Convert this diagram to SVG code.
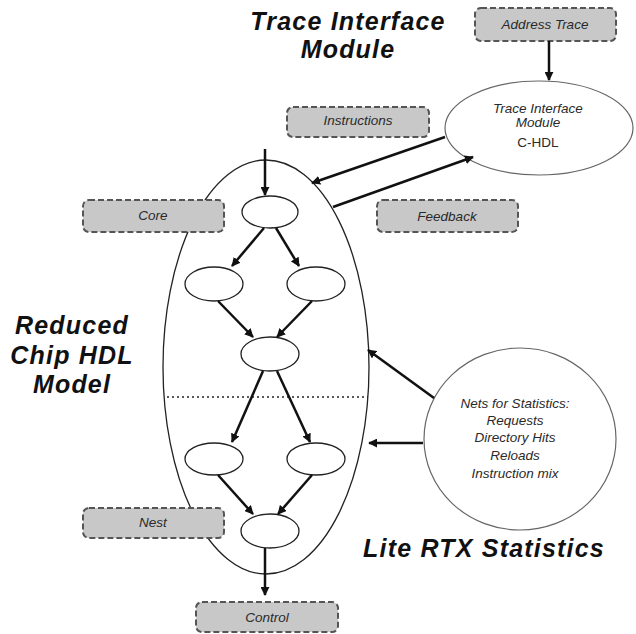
<svg xmlns="http://www.w3.org/2000/svg" width="636" height="634" viewBox="0 0 636 634">
  <style>
    .title { font-family: "Liberation Sans", Arial, sans-serif; font-size: 25px; letter-spacing: 1.2px; font-weight: bold; font-style: italic; fill: #111; text-anchor: middle; }
    .lbl { font-family: "Liberation Sans", Arial, sans-serif; font-size: 13.5px; font-style: italic; fill: #2a2a2a; text-anchor: middle; }
    .up { font-style: normal; }
    .box { fill: #c8c8c8; stroke: #555; stroke-width: 2; stroke-dasharray: 6 3; }
    .node { fill: #fff; stroke: #222; stroke-width: 1.3; }
    .oval { fill: #fff; stroke: #666; stroke-width: 1.2; }
    .edge { fill: none; stroke: #111; stroke-width: 2.5; marker-end: url(#arrow); }
  </style>
  <defs>
    <marker id="arrow" viewBox="0 0 10 10" refX="9" refY="5" markerWidth="3.6" markerHeight="3.6" orient="auto" markerUnits="strokeWidth">
      <path d="M0,0 L10,5 L0,10 z" fill="#111"/>
    </marker>
  </defs>
  <rect width="636" height="634" fill="#fff"/>

  <!-- headings -->
  <text class="title" x="348" y="30">Trace Interface</text>
  <text class="title" x="348" y="58">Module</text>
  <text class="title" x="72" y="334">Reduced</text>
  <text class="title" x="72" y="364">Chip HDL</text>
  <text class="title" x="72" y="393">Model</text>
  <text class="title" x="484" y="557">Lite RTX Statistics</text>

  <!-- chip model outline -->
  <g id="chip">
    <ellipse class="node" cx="266" cy="367" rx="103" ry="207"/>
    <line x1="167" y1="397" x2="368" y2="397" stroke="#222" stroke-width="1.5" stroke-dasharray="2 3"/>
  </g>

  <!-- labels overlapping the outline -->
  <g id="core"><rect class="box" x="83" y="200" width="141" height="32" rx="6"/><text class="lbl" x="153" y="220">Core</text></g>
  <g id="nest"><rect class="box" x="83" y="508" width="141" height="30" rx="6"/><text class="lbl" x="153" y="527">Nest</text></g>
  <g id="control"><rect class="box" x="196" y="602" width="142" height="30" rx="6"/><text class="lbl" x="267" y="622">Control</text></g>
  <g id="instructions"><rect class="box" x="287" y="107" width="142" height="30" rx="6"/><text class="lbl" x="358" y="125">Instructions</text></g>
  <g id="feedback"><rect class="box" x="377" y="200" width="141" height="32" rx="6"/><text class="lbl" x="447" y="221">Feedback</text></g>
  <g id="address-trace"><rect class="box" x="475" y="8" width="141" height="33" rx="6"/><text class="lbl" x="545" y="29">Address Trace</text></g>

  <!-- trace interface module -->
  <g id="tim">
    <ellipse class="oval" cx="539" cy="128" rx="94" ry="47"/>
    <text class="lbl" x="538" y="113">Trace Interface</text>
    <text class="lbl" x="538" y="127">Module</text>
    <text class="lbl up" x="538" y="147">C-HDL</text>
  </g>

  <!-- statistics nets -->
  <g id="stats">
    <ellipse class="oval" cx="520" cy="439" rx="96" ry="91"/>
    <text class="lbl" x="515" y="408">Nets for Statistics:</text>
    <text class="lbl" x="515" y="425">Requests</text>
    <text class="lbl" x="515" y="442">Directory Hits</text>
    <text class="lbl" x="515" y="460">Reloads</text>
    <text class="lbl" x="515" y="478">Instruction mix</text>
  </g>

  <!-- model nodes -->
  <g id="n1"><ellipse class="node" cx="270" cy="212" rx="28" ry="16"/></g>
  <g id="n2"><ellipse class="node" cx="214" cy="284" rx="29" ry="17"/></g>
  <g id="n3"><ellipse class="node" cx="316" cy="284" rx="29" ry="17"/></g>
  <g id="n4"><ellipse class="node" cx="270" cy="354" rx="29" ry="17"/></g>
  <g id="n5"><ellipse class="node" cx="214" cy="459" rx="29" ry="16"/></g>
  <g id="n6"><ellipse class="node" cx="316" cy="459" rx="29" ry="16"/></g>
  <g id="n7"><ellipse class="node" cx="270" cy="531" rx="29" ry="17"/></g>

  <!-- connectors -->
  <g id="connectors">
    <line class="edge" x1="549" y1="41" x2="549" y2="80"/>
    <line class="edge" x1="445" y1="137" x2="312" y2="183"/>
    <line class="edge" x1="333" y1="207" x2="473" y2="157"/>
    <line class="edge" x1="265" y1="149" x2="265" y2="195"/>
    <line class="edge" x1="264" y1="228" x2="232" y2="266"/>
    <line class="edge" x1="276" y1="228" x2="299" y2="266"/>
    <line class="edge" x1="218" y1="301" x2="253" y2="337"/>
    <line class="edge" x1="312" y1="301" x2="277" y2="337"/>
    <line class="edge" x1="263" y1="371" x2="232" y2="442"/>
    <line class="edge" x1="277" y1="371" x2="310" y2="442"/>
    <line class="edge" x1="218" y1="475" x2="253" y2="514"/>
    <line class="edge" x1="312" y1="475" x2="278" y2="514"/>
    <line class="edge" x1="265" y1="548" x2="265" y2="595"/>
    <line class="edge" x1="434" y1="398" x2="368" y2="350"/>
    <line class="edge" x1="423" y1="443" x2="369" y2="443"/>
  </g>
</svg>
